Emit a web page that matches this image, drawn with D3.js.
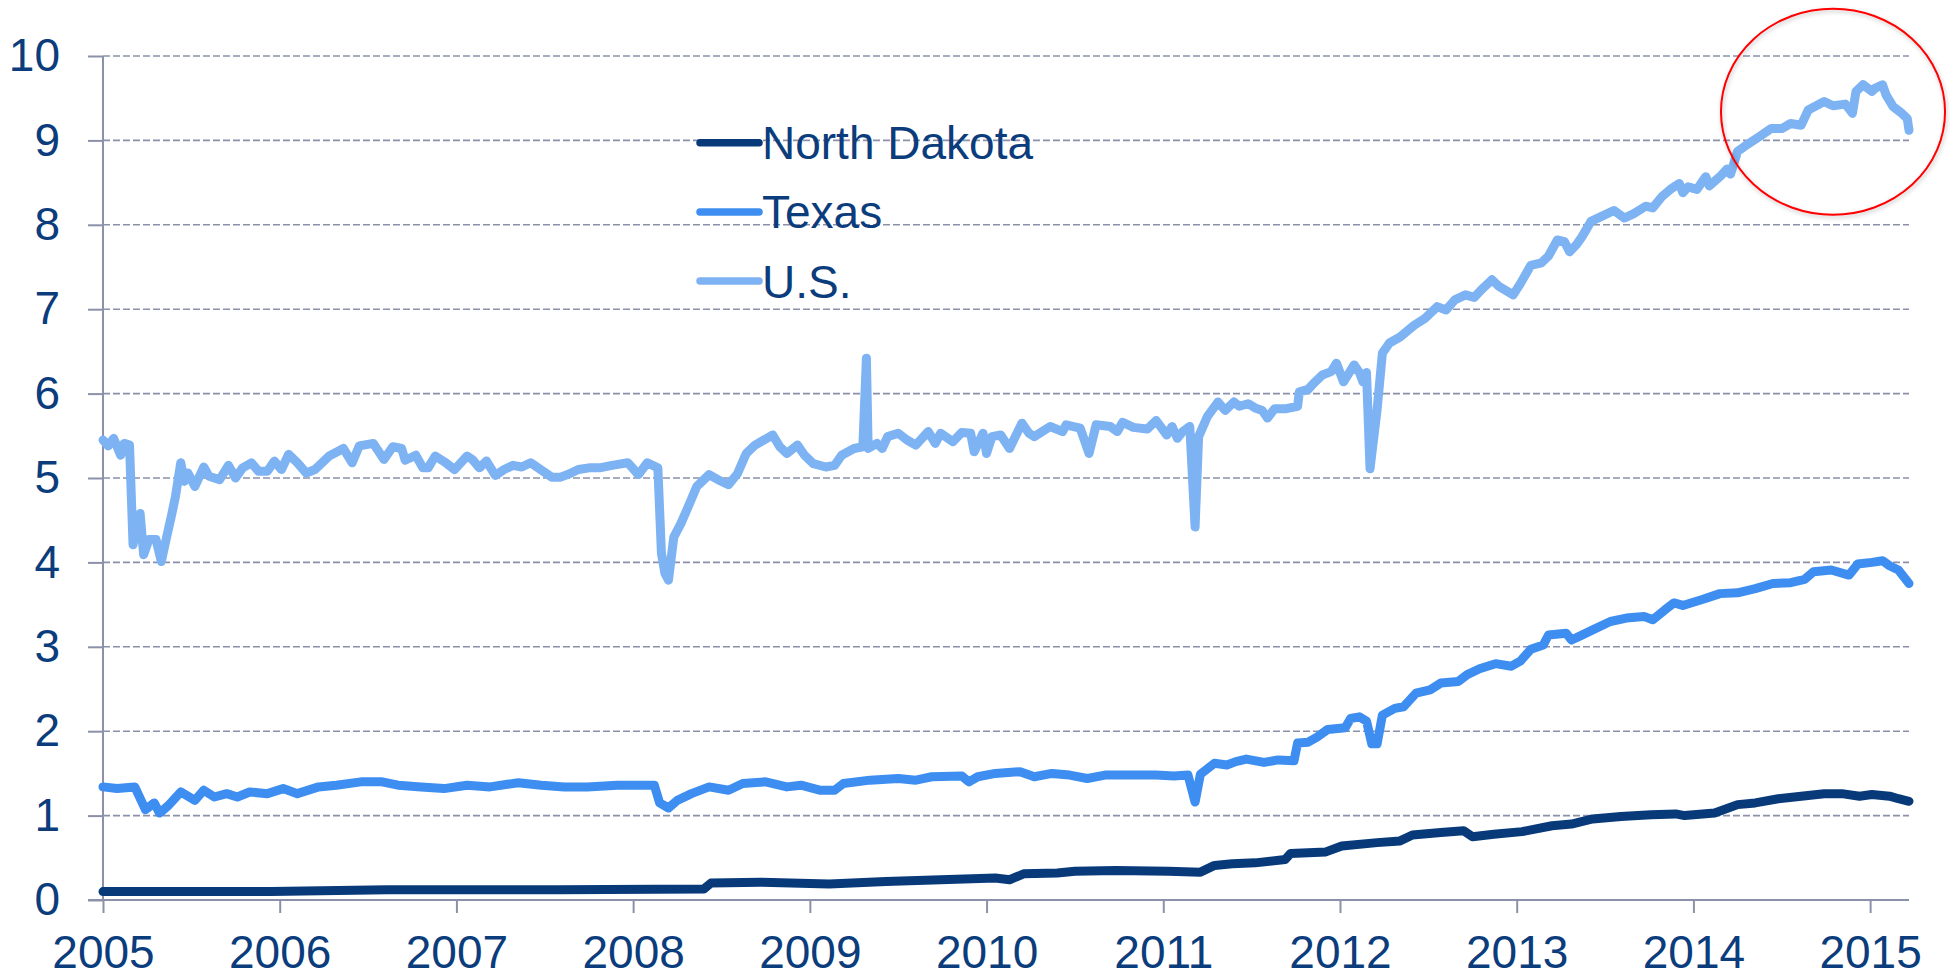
<!DOCTYPE html>
<html>
<head>
<meta charset="utf-8">
<script src="https://cdn.jsdelivr.net/npm/d3@7"></script>
<style>
  body { margin: 0; background: #fff; }
  svg { display: block; font-family: "Liberation Sans", Arial, sans-serif; }
</style>
</head>
<body>
<div id="chart"></div>
<script>
// series names and colours, in legend order
var seriesNames = ["North Dakota", "Texas", "U.S."];
var seriesColors = ["#083a7a", "#3d8ef0", "#7db2f3"];

// tick labels
var yearTicks = [2005, 2006, 2007, 2008, 2009, 2010, 2011, 2012, 2013, 2014, 2015];
var valueTicks = [0, 1, 2, 3, 4, 5, 6, 7, 8, 9, 10];

// [decimal year, value]
var ndData = [
  [2005.00,0.10],[2005.95,0.10],[2006.61,0.12],[2007.58,0.12],[2008.40,0.13],[2008.44,0.20],
  [2008.72,0.21],[2009.11,0.19],[2009.43,0.22],[2010.05,0.26],[2010.13,0.24],[2010.21,0.31],
  [2010.40,0.32],[2010.50,0.34],[2010.73,0.35],[2011.03,0.34],[2011.21,0.33],[2011.29,0.41],
  [2011.39,0.43],[2011.52,0.44],[2011.69,0.48],[2011.72,0.55],[2011.92,0.57],[2012.01,0.64],
  [2012.21,0.68],[2012.34,0.70],[2012.41,0.77],[2012.57,0.80],[2012.70,0.82],[2012.75,0.75],
  [2012.87,0.78],[2013.03,0.81],[2013.20,0.88],[2013.31,0.90],[2013.43,0.96],[2013.59,0.99],
  [2013.76,1.01],[2013.90,1.02],[2013.95,1.00],[2014.12,1.03],[2014.25,1.13],[2014.35,1.15],
  [2014.48,1.20],[2014.61,1.23],[2014.74,1.26],[2014.84,1.26],[2014.94,1.23],[2015.01,1.25],
  [2015.11,1.23],[2015.16,1.20],[2015.22,1.17]
];

var txData = [
  [2005.00,1.34],[2005.08,1.32],[2005.18,1.34],[2005.24,1.07],[2005.29,1.15],[2005.32,1.03],
  [2005.37,1.12],[2005.44,1.28],[2005.52,1.18],[2005.57,1.30],[2005.63,1.22],[2005.70,1.26],
  [2005.76,1.22],[2005.83,1.28],[2005.93,1.26],[2006.02,1.32],[2006.10,1.26],[2006.22,1.34],
  [2006.32,1.36],[2006.46,1.40],[2006.58,1.40],[2006.67,1.36],[2006.80,1.34],[2006.93,1.32],
  [2007.06,1.36],[2007.19,1.34],[2007.35,1.39],[2007.48,1.36],[2007.61,1.34],[2007.74,1.34],
  [2007.91,1.36],[2008.04,1.36],[2008.12,1.36],[2008.15,1.15],[2008.20,1.09],[2008.25,1.18],
  [2008.33,1.26],[2008.43,1.34],[2008.54,1.30],[2008.62,1.38],[2008.75,1.40],[2008.87,1.34],
  [2008.95,1.36],[2009.06,1.30],[2009.14,1.30],[2009.19,1.38],[2009.34,1.42],[2009.50,1.44],
  [2009.60,1.42],[2009.69,1.46],[2009.86,1.47],[2009.90,1.40],[2009.95,1.46],[2010.05,1.50],
  [2010.19,1.52],[2010.27,1.46],[2010.37,1.50],[2010.47,1.48],[2010.57,1.44],[2010.67,1.48],
  [2010.83,1.48],[2010.96,1.48],[2011.06,1.47],[2011.14,1.48],[2011.18,1.16],[2011.21,1.49],
  [2011.29,1.62],[2011.36,1.60],[2011.41,1.64],[2011.47,1.67],[2011.57,1.63],[2011.65,1.66],
  [2011.74,1.65],[2011.76,1.86],[2011.82,1.87],[2011.87,1.93],[2011.93,2.02],[2012.03,2.04],
  [2012.06,2.15],[2012.11,2.17],[2012.15,2.12],[2012.18,1.85],[2012.21,1.85],[2012.24,2.19],
  [2012.31,2.27],[2012.36,2.29],[2012.43,2.45],[2012.51,2.49],[2012.57,2.57],[2012.67,2.59],
  [2012.72,2.67],[2012.79,2.74],[2012.88,2.80],[2012.97,2.77],[2013.02,2.83],[2013.08,2.97],
  [2013.15,3.02],[2013.18,3.14],[2013.28,3.16],[2013.31,3.08],[2013.36,3.13],[2013.43,3.20],
  [2013.53,3.30],[2013.62,3.34],[2013.72,3.36],[2013.77,3.32],[2013.84,3.44],[2013.89,3.52],
  [2013.94,3.49],[2014.05,3.56],[2014.15,3.63],[2014.25,3.64],[2014.35,3.69],[2014.45,3.75],
  [2014.55,3.76],[2014.63,3.80],[2014.68,3.89],[2014.78,3.91],[2014.88,3.85],[2014.93,3.98],
  [2015.01,4.00],[2015.07,4.02],[2015.11,3.96],[2015.16,3.91],[2015.22,3.75]
];

var usData = [
  [2005.00,5.45],[2005.03,5.38],[2005.06,5.47],[2005.10,5.27],[2005.12,5.41],[2005.15,5.39],
  [2005.17,4.21],[2005.21,4.58],[2005.23,4.09],[2005.26,4.27],[2005.30,4.27],[2005.33,4.01],
  [2005.36,4.30],[2005.39,4.58],[2005.41,4.78],[2005.44,5.18],[2005.46,4.96],[2005.48,5.06],
  [2005.52,4.90],[2005.57,5.13],[2005.60,5.02],[2005.66,4.98],[2005.71,5.15],[2005.75,5.00],
  [2005.79,5.12],[2005.84,5.18],[2005.88,5.08],[2005.93,5.08],[2005.97,5.20],[2006.01,5.10],
  [2006.05,5.28],[2006.10,5.18],[2006.15,5.06],[2006.20,5.10],[2006.24,5.18],[2006.28,5.26],
  [2006.36,5.35],[2006.41,5.18],[2006.45,5.38],[2006.53,5.41],[2006.59,5.22],[2006.64,5.37],
  [2006.69,5.35],[2006.71,5.21],[2006.77,5.27],[2006.81,5.12],[2006.84,5.12],[2006.88,5.26],
  [2006.94,5.18],[2006.99,5.10],[2007.06,5.26],[2007.09,5.22],[2007.13,5.12],[2007.17,5.20],
  [2007.22,5.03],[2007.27,5.10],[2007.32,5.15],[2007.37,5.13],[2007.42,5.18],[2007.54,5.01],
  [2007.59,5.01],[2007.64,5.05],[2007.69,5.10],[2007.75,5.12],[2007.81,5.12],[2007.88,5.15],
  [2007.97,5.18],[2008.03,5.04],[2008.08,5.18],[2008.14,5.12],[2008.16,4.11],[2008.18,3.87],
  [2008.20,3.79],[2008.23,4.30],[2008.27,4.46],[2008.32,4.70],[2008.36,4.90],[2008.43,5.04],
  [2008.48,4.98],[2008.54,4.92],[2008.59,5.05],[2008.64,5.29],[2008.69,5.39],[2008.74,5.45],
  [2008.79,5.51],[2008.83,5.37],[2008.87,5.29],[2008.93,5.39],[2008.97,5.27],[2009.02,5.17],
  [2009.09,5.13],[2009.14,5.15],[2009.18,5.27],[2009.25,5.35],[2009.30,5.37],[2009.32,6.42],
  [2009.33,5.35],[2009.38,5.41],[2009.41,5.35],[2009.44,5.49],[2009.50,5.53],[2009.55,5.45],
  [2009.60,5.39],[2009.67,5.55],[2009.71,5.41],[2009.74,5.53],[2009.81,5.43],[2009.86,5.54],
  [2009.91,5.53],[2009.93,5.31],[2009.98,5.53],[2010.00,5.29],[2010.03,5.49],[2010.08,5.51],
  [2010.13,5.35],[2010.20,5.65],[2010.24,5.53],[2010.27,5.49],[2010.36,5.61],[2010.43,5.55],
  [2010.45,5.63],[2010.53,5.59],[2010.58,5.29],[2010.62,5.63],[2010.70,5.61],[2010.74,5.55],
  [2010.77,5.66],[2010.83,5.60],[2010.91,5.58],[2010.96,5.68],[2011.02,5.51],[2011.05,5.61],
  [2011.08,5.47],[2011.11,5.55],[2011.15,5.61],[2011.18,4.42],[2011.20,5.49],[2011.25,5.73],
  [2011.31,5.90],[2011.35,5.80],[2011.40,5.90],[2011.43,5.85],[2011.48,5.88],[2011.52,5.83],
  [2011.56,5.80],[2011.59,5.71],[2011.63,5.82],[2011.69,5.82],[2011.76,5.85],[2011.77,6.02],
  [2011.82,6.05],[2011.85,6.12],[2011.90,6.22],[2011.95,6.26],[2011.98,6.36],[2012.02,6.14],
  [2012.08,6.34],[2012.11,6.25],[2012.13,6.14],[2012.15,6.25],[2012.17,5.11],[2012.21,5.81],
  [2012.24,6.48],[2012.28,6.60],[2012.34,6.67],[2012.42,6.81],[2012.48,6.89],[2012.55,7.03],
  [2012.60,6.99],[2012.65,7.11],[2012.71,7.17],[2012.76,7.14],[2012.80,7.23],[2012.86,7.35],
  [2012.90,7.27],[2012.98,7.17],[2013.02,7.30],[2013.08,7.52],[2013.14,7.55],[2013.18,7.63],
  [2013.23,7.82],[2013.27,7.80],[2013.30,7.68],[2013.34,7.77],[2013.37,7.86],[2013.42,8.04],
  [2013.48,8.10],[2013.55,8.17],[2013.61,8.08],[2013.66,8.13],[2013.73,8.22],[2013.77,8.20],
  [2013.82,8.33],[2013.87,8.42],[2013.92,8.49],[2013.94,8.38],[2013.97,8.45],[2014.02,8.42],
  [2014.07,8.57],[2014.09,8.46],[2014.15,8.57],[2014.19,8.66],[2014.21,8.60],[2014.25,8.87],
  [2014.29,8.93],[2014.37,9.04],[2014.44,9.14],[2014.50,9.14],[2014.55,9.20],[2014.61,9.18],
  [2014.65,9.36],[2014.74,9.46],[2014.79,9.41],[2014.86,9.43],[2014.90,9.32],[2014.92,9.58],
  [2014.96,9.66],[2015.01,9.58],[2015.03,9.62],[2015.07,9.66],[2015.09,9.54],[2015.13,9.40],
  [2015.18,9.32],[2015.21,9.26],[2015.22,9.12]
];

var allSeries = [ndData, txData, usData];

// red ring highlighting the latest U.S. values (centre in data units)
var highlight = { year: 2014.79, value: 9.34, yearRadius: 0.634, valueRadius: 1.22 };

var width = 1950, height = 979;
var margin = { top: 56, right: 41, bottom: 79, left: 103 };
var textColor = "#0b3c7c", axisColor = "#8c91aa";

var svg = d3.select("#chart").append("svg")
    .attr("width", width)
    .attr("height", height);

var x = d3.scaleLinear()
    .domain([2005, 2015.22])
    .range([margin.left, width - margin.right]);

var y = d3.scaleLinear()
    .domain([0, 10])
    .range([height - margin.bottom, margin.top]);

// dashed gridlines
svg.append("g")
    .selectAll("line")
    .data(valueTicks.filter(function(d) { return d > 0; }))
    .enter().append("line")
    .attr("x1", x.range()[0])
    .attr("x2", x.range()[1])
    .attr("y1", function(d) { return y(d); })
    .attr("y2", function(d) { return y(d); })
    .attr("stroke", axisColor)
    .attr("stroke-width", 1.6)
    .attr("stroke-dasharray", "7,3");

var yAxis = svg.append("g")
    .attr("transform", "translate(" + margin.left + ",0)")
    .call(d3.axisLeft(y).tickValues(valueTicks).tickSize(15).tickPadding(28).tickFormat(d3.format("d")));

var xAxis = svg.append("g")
    .attr("transform", "translate(0," + y(0) + ")")
    .call(d3.axisBottom(x).tickValues(yearTicks).tickSize(13).tickPadding(22).tickFormat(d3.format("d")));

[xAxis, yAxis].forEach(function(ax) {
    ax.select(".domain").attr("stroke", axisColor).attr("stroke-width", 2);
    ax.selectAll(".tick line").attr("stroke", axisColor).attr("stroke-width", 2);
    ax.selectAll("text")
        .attr("fill", textColor)
        .style("font-size", "46px")
        .style("font-family", "'Liberation Sans', Arial, sans-serif");
});
// y axis and gridlines start a bit left of the axis, x axis line spans the full width
xAxis.select(".domain").attr("d", "M" + (margin.left - 15) + ",0H" + x.range()[1]);
yAxis.select(".domain").attr("d", "M0," + y(0) + "V" + y(10));

var line = d3.line()
    .x(function(d) { return x(d[0]); })
    .y(function(d) { return y(d[1]); });

svg.append("g")
    .selectAll("path")
    .data(allSeries)
    .enter().append("path")
    .attr("d", line)
    .attr("fill", "none")
    .attr("stroke", function(d, i) { return seriesColors[i]; })
    .attr("stroke-width", 9)
    .attr("stroke-linejoin", "round")
    .attr("stroke-linecap", "round");

// legend
var legend = svg.append("g")
    .selectAll("g")
    .data(seriesNames)
    .enter().append("g")
    .attr("transform", function(d, i) { return d3Translate(700, 142.7 + i * 69.2); });

legend.append("line")
    .attr("x1", 0).attr("x2", 59)
    .attr("stroke", function(d, i) { return seriesColors[i]; })
    .attr("stroke-width", 7.5)
    .attr("stroke-linecap", "round");

legend.append("text")
    .attr("x", 62)
    .attr("dy", "0.36em")
    .attr("fill", textColor)
    .style("font-size", "46px")
    .text(function(d) { return d; });

// highlight ring
var defs = svg.append("defs");
var shadow = defs.append("filter").attr("id", "ringShadow")
    .attr("x", "-10%").attr("y", "-10%").attr("width", "120%").attr("height", "120%");
shadow.append("feDropShadow")
    .attr("dx", 1).attr("dy", 2).attr("stdDeviation", 2)
    .attr("flood-color", "#000").attr("flood-opacity", 0.25);

svg.append("ellipse")
    .attr("cx", x(highlight.year))
    .attr("cy", y(highlight.value))
    .attr("rx", x(highlight.year + highlight.yearRadius) - x(highlight.year))
    .attr("ry", y(highlight.value - highlight.valueRadius) - y(highlight.value))
    .attr("fill", "none")
    .attr("stroke", "#ff0000")
    .attr("stroke-width", 2)
    .attr("filter", "url(#ringShadow)");

function d3Translate(tx, ty) {
    return "translate(" + tx + "," + ty + ")";
}
</script>
</body>
</html>
